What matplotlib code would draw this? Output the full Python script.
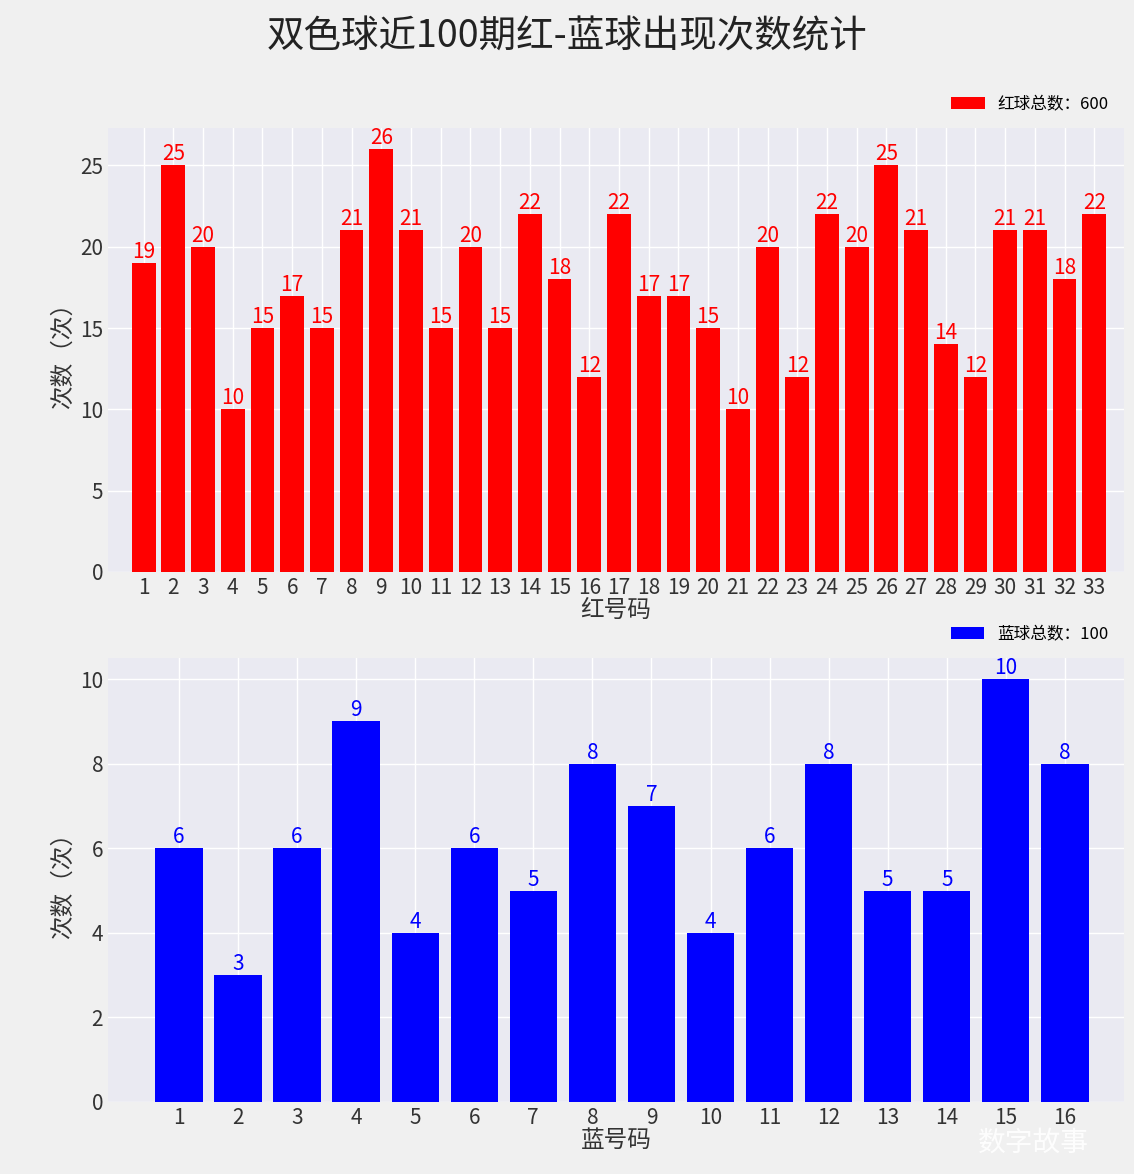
import matplotlib
matplotlib.use("Agg")
import matplotlib.pyplot as plt

plt.rcParams["font.family"] = ["Noto Sans CJK SC", "DejaVu Sans"]

red_labels = [str(i) for i in range(1, 34)]
red_counts = [19,25,20,10,15,17,15,21,26,21,15,20,15,22,18,12,22,17,17,15,10,20,12,22,20,25,21,14,12,21,21,18,22]
blue_labels = [str(i) for i in range(1, 17)]
blue_counts = [6,3,6,9,4,6,5,8,7,4,6,8,5,5,10,8]

fig = plt.figure(figsize=(11.34, 11.74), dpi=100, facecolor="#f0f0f0")
ax1 = fig.add_axes([108/1134, 1-572/1174, 1016/1134, 444/1174])
ax2 = fig.add_axes([108/1134, 1-1102/1174, 1016/1134, 444/1174])

def draw(ax, labels, counts, color, xlabel, leg, ylim, yticks):
    ax.set_facecolor("#eaeaf2")
    ax.grid(True, color="white", linewidth=1)
    ax.set_axisbelow(True)
    for s in ax.spines.values():
        s.set_visible(False)
    x = list(range(1, len(labels)+1))
    ax.bar(x, counts, color=color, width=0.8, label=leg)
    for xi, c in zip(x, counts):
        ax.text(xi, c, str(c), ha="center", va="bottom", color=color, fontsize=15)
    ax.set_xticks(x)
    ax.set_xticklabels(labels)
    ax.set_xlim(-0.2, len(labels)+1.0)
    ax.set_ylim(*ylim)
    ax.set_yticks(yticks)
    ax.tick_params(axis="both", labelsize=15, length=0, colors="#333333")
    ax.set_xlabel(xlabel, fontsize=17, color="#333333", labelpad=0)
    ax.set_ylabel("次数（次）", fontsize=17, color="#333333")
    ax.legend(loc="lower right", bbox_to_anchor=(1.0, 1.0), frameon=False, fontsize=12)

draw(ax1, red_labels, red_counts, "#ff0000", "红号码", "红球总数：600", (0, 27.3), [0,5,10,15,20,25])
draw(ax2, blue_labels, blue_counts, "#0000ff", "蓝号码", "蓝球总数：100", (0, 10.5), [0,2,4,6,8,10])

fig.suptitle("双色球近100期红-蓝球出现次数统计", fontsize=27, y=0.985, color="#222222")
fig.text(0.96, 0.02, "数字故事", fontsize=20, color="white", ha="right", alpha=0.9)
fig.savefig("out.png", dpi=100, facecolor=fig.get_facecolor())
